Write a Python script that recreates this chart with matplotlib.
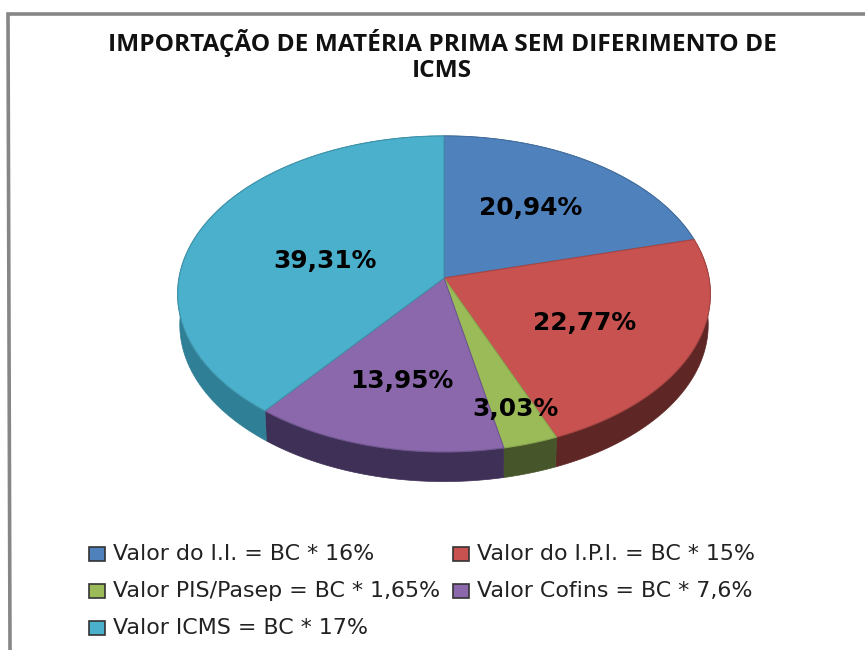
import numpy as np
import matplotlib
matplotlib.use("Agg")
import matplotlib.pyplot as plt
from matplotlib.patches import Polygon, Rectangle

title = "IMPORTAÇÃO DE MATÉRIA PRIMA SEM DIFERIMENTO DE\nICMS"
names = ["Valor do I.I. = BC * 16%", "Valor do I.P.I. = BC * 15%",
         "Valor PIS/Pasep = BC * 1,65%", "Valor Cofins = BC * 7,6%",
         "Valor ICMS = BC * 17%"]
shares = [20.94, 22.77, 3.03, 13.95, 39.31]
share_labels = ["20,94%", "22,77%", "3,03%", "13,95%", "39,31%"]

top_colors = ["#4f81bd", "#c8524f", "#9bbb59", "#8a68ab", "#4bb0cc"]
side_colors = ["#2f4d72", "#5e2624", "#47562a", "#3e3056", "#2f7f96"]
edge_colors = ["#44709f", "#a84543", "#88a44e", "#6f5690", "#3f93aa"]

# pixel positions of the % labels and the legend rows
label_xy = [(531, 208), (585, 323), (515, 409), (402, 381), (325, 261)]
legend_xy = [(89, 554), (453, 554), (89, 591), (453, 591), (89, 628)]

CX, CY = 444, 278
RX, RY, K = 265, 156.4, 0.101
DEPTH = 31


def project(deg, scale=1.0, dy=0):
    # circle seen in perspective, apex stays at CX, CY
    t = np.radians(deg)
    s = -np.cos(t)
    d = 1 - K * s
    return np.column_stack([CX + scale * RX * np.sin(t) / d,
                            CY + dy + scale * RY * s / d])


fig = plt.figure(figsize=(8.65, 6.5), dpi=100)
ax = fig.add_axes([0, 0, 1, 1])
ax.set_xlim(0, 865)
ax.set_ylim(650, 0)
ax.axis("off")

# frame, only top and left are visible
ax.plot([10, 8, 865], [650, 14, 14], color="#868686", lw=2.6, solid_joinstyle="miter")

edges = np.cumsum([0] + shares) / sum(shares) * 360
for i in range(len(shares)):
    angles = np.linspace(edges[i], edges[i + 1], 90)
    top = project(angles)
    low = project(angles, scale=0.992, dy=DEPTH)
    ax.add_patch(Polygon(np.vstack([top, low[::-1]]), closed=True,
                         fc=side_colors[i], ec=side_colors[i], lw=0.5, zorder=2))

for i in range(len(shares)):
    angles = np.linspace(edges[i], edges[i + 1], 90)
    pts = np.vstack([[CX, CY], project(angles)])
    ax.add_patch(Polygon(pts, closed=True, fc=top_colors[i], ec=edge_colors[i],
                         lw=0.8, zorder=3))

for txt, (x, y) in zip(share_labels, label_xy):
    ax.text(x, y, txt, ha="center", va="center", fontsize=17.9, fontweight="bold",
            family="DejaVu Sans", color="black", zorder=5)

ax.text(442, 56, title, ha="center", va="center", fontsize=17.6, fontweight="bold",
        family="Open Sans", linespacing=1.12, color="#111111")

for i, (x, y) in enumerate(legend_xy):
    ax.add_patch(Rectangle((x, y - 7), 16, 14, fc=top_colors[i], ec="#333333", lw=1.2))
    ax.text(x + 24, y, names[i], ha="left", va="center", fontsize=15.9,
            family="DejaVu Sans", color="#222222")

fig.savefig("out.png", dpi=100)
